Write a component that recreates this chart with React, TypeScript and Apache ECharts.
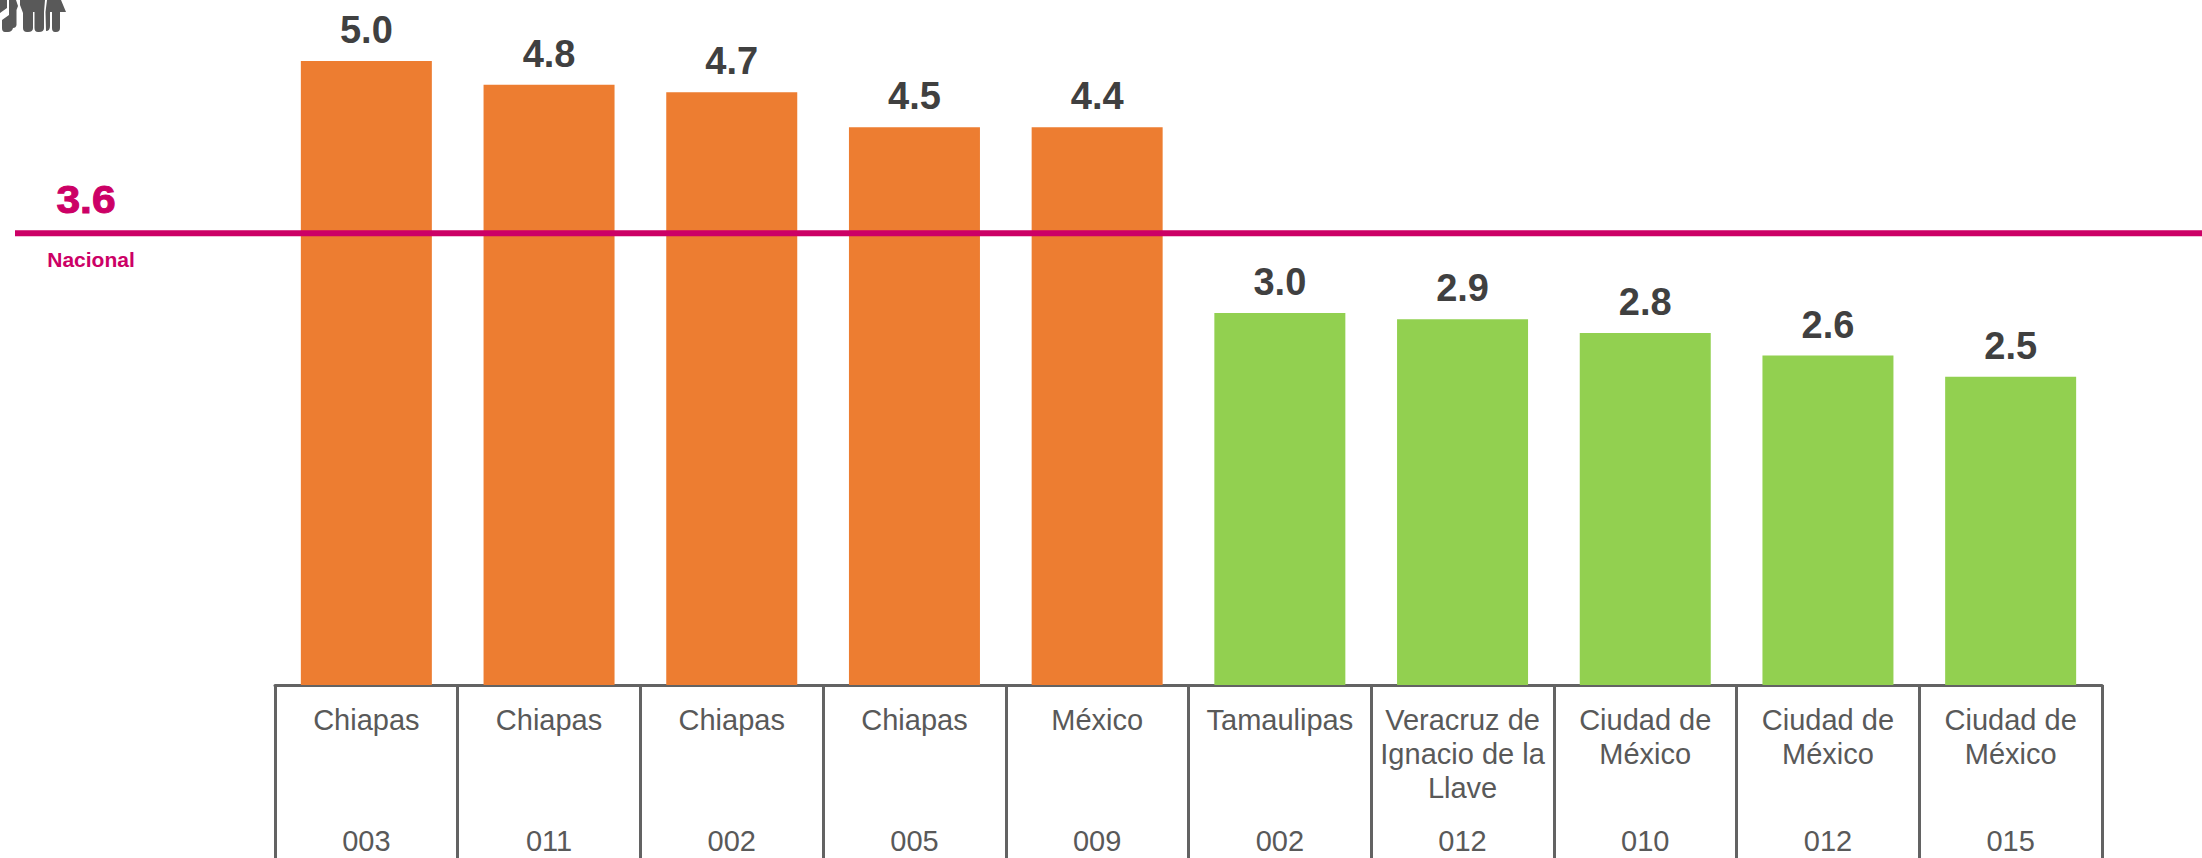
import React, { useEffect, useRef } from "react";
import * as echarts from "echarts";

const states = [
  "Chiapas",
  "Chiapas",
  "Chiapas",
  "Chiapas",
  "México",
  "Tamaulipas",
  "Veracruz de\nIgnacio de la\nLlave",
  "Ciudad de\nMéxico",
  "Ciudad de\nMéxico",
  "Ciudad de\nMéxico",
];
const codes = ["003", "011", "002", "005", "009", "002", "012", "010", "012", "015"];
const barHeights = [5.0, 4.81, 4.75, 4.47, 4.47, 2.98, 2.93, 2.82, 2.64, 2.47];
const valueLabels = ["5.0", "4.8", "4.7", "4.5", "4.4", "3.0", "2.9", "2.8", "2.6", "2.5"];
const nationalValue = 3.62;
const nationalLabel = "3.6";
const nationalName = "Nacional";

const FONT = '"Liberation Sans", Arial, sans-serif';
const MAGENTA = "#CC0066";
const AXIS = "#636363";

const iconPath =
  "M0 0H7V8L0 13Z " +
  "M9 0H16L18 6L16.5 10V25Q16 28 13 28Q12 32 8 32H5Q2 32 2 28V20L9 15Z " +
  "M20 0H45L44 12V28Q44 32 39 32H38Q34.5 32 34.5 28V12H33V28Q33 32 28 32H27Q23 32 23 28V13L20 5Z " +
  "M47 0H61L66 12H60V28Q60 32 56 32H55Q52 32 52 28V12H50V26Q50 31 46 31L45.5 12Z";

export default function App() {
  const ref = useRef<HTMLDivElement>(null);

  useEffect(() => {
    document.body.style.margin = "0";
    document.body.style.overflow = "hidden";
    echarts.graphic.registerShape("peopleIcon", echarts.graphic.extendPath(iconPath, {}));
    const chart = echarts.init(ref.current!, null, { renderer: "svg" });
    chart.setOption({
      animation: false,
      backgroundColor: "#FFFFFF",
      grid: { left: 275, top: 61, width: 1827, height: 624, containLabel: false },
      xAxis: [
        {
          type: "category",
          data: states,
          position: "bottom",
          axisLine: { show: true, onZero: false, lineStyle: { color: AXIS, width: 3 } },
          axisTick: { show: true, length: 173, alignWithLabel: false, lineStyle: { color: AXIS, width: 3 } },
          axisLabel: {
            interval: 0,
            margin: 18,
            color: "#595959",
            fontFamily: FONT,
            fontSize: 29,
            lineHeight: 34,
            verticalAlign: "top",
            align: "center",
          },
        },
        {
          type: "category",
          data: codes,
          position: "bottom",
          axisLine: { show: false },
          axisTick: { show: false },
          axisLabel: {
            interval: 0,
            margin: 139,
            color: "#595959",
            fontFamily: FONT,
            fontSize: 29,
            lineHeight: 34,
            verticalAlign: "top",
            align: "center",
          },
        },
      ],
      yAxis: { type: "value", min: 0, max: 5, show: false },
      series: [
        {
          type: "bar",
          data: barHeights,
          barWidth: 131,
          itemStyle: {
            color: (p: any) => (p.dataIndex < 5 ? "#ED7D31" : "#92D050"),
          },
          label: {
            show: true,
            position: "top",
            distance: 12,
            formatter: (p: any) => valueLabels[p.dataIndex],
            color: "#404040",
            fontFamily: FONT,
            fontWeight: "bold",
            fontSize: 38,
          },
        },
        {
          type: "custom",
          data: [[0, nationalValue]],
          z: 5,
          silent: true,
          renderItem: (_params: any, api: any) => {
            const y = api.coord([0, api.value(1)])[1];
            return {
              type: "group",
              children: [
                {
                  type: "line",
                  shape: { x1: 15, y1: y, x2: api.getWidth(), y2: y },
                  style: { stroke: MAGENTA, lineWidth: 6 },
                },
                {
                  type: "text",
                  x: 86,
                  y: y - 33,
                  scaleX: 1.12,
                  style: {
                    text: nationalLabel,
                    fill: MAGENTA,
                    stroke: MAGENTA,
                    lineWidth: 1,
                    font: `bold 38px ${FONT}`,
                    textAlign: "center",
                    textVerticalAlign: "middle",
                  },
                },
                {
                  type: "text",
                  x: 91,
                  y: y + 26,
                  style: {
                    text: nationalName,
                    fill: MAGENTA,
                    font: `bold 21px ${FONT}`,
                    textAlign: "center",
                    textVerticalAlign: "middle",
                  },
                },
              ],
            };
          },
        },
      ],
      graphic: [
        {
          type: "peopleIcon",
          x: 0,
          y: 0,
          style: { fill: "#595959" },
        },
      ],
    });
    return () => chart.dispose();
  }, []);

  return (
    <div
      ref={ref}
      style={{ position: "fixed", left: 0, top: 0, width: 2202, height: 858 }}
    />
  );
}
